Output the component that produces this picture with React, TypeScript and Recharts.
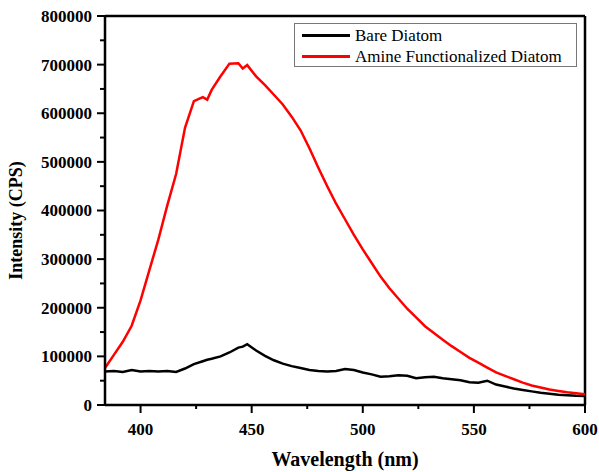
import { LineChart, Line, XAxis, YAxis, ReferenceLine, Label } from 'recharts';

const wavelengths = [
  384, 388, 392, 396, 400, 404, 408, 412, 416, 420, 424, 428, 430, 432, 436, 440, 444, 446, 448,
  452, 456, 460, 464, 468, 472, 476, 480, 484, 488, 492, 496, 500, 504, 508, 512, 516, 520, 524,
  528, 532, 536, 540, 544, 548, 552, 556, 560, 564, 568, 572, 576, 580, 584, 588, 592, 596, 600,
];

const bareDiatom = [
  69000, 70000, 68000, 72000, 69000, 70000, 69000, 70000, 68000, 75000, 84000, 90000, 93000, 95000,
  100000, 108000, 118000, 120000, 125000, 112000, 101000, 92000, 85000, 80000, 76000, 72000, 70000,
  69000, 70000, 74000, 72000, 67000, 63000, 58000, 59000, 61000, 60000, 55000, 57000, 58000, 55000,
  53000, 51000, 47000, 46000, 50000, 42000, 38000, 34000, 31000, 28000, 25000, 23000, 21000, 20000,
  19000, 18500,
];

const amineDiatom = [
  76000, 103000, 130000, 163000, 215000, 278000, 340000, 410000, 475000, 570000, 625000, 633000,
  628000, 648000, 676000, 702000, 703000, 692000, 699000, 676000, 658000, 638000, 618000, 593000,
  565000, 528000, 488000, 450000, 414000, 382000, 350000, 320000, 292000, 264000, 240000, 219000,
  198000, 180000, 162000, 148000, 134000, 121000, 109000, 97000, 87000, 77000, 67000, 60000, 53000,
  46000, 40000, 36000, 32000, 29000, 26000, 24000, 22000,
];

const xTicks = [400, 425, 450, 475, 500, 525, 550, 575, 600];
const yTicks = [
  0, 50000, 100000, 150000, 200000, 250000, 300000, 350000, 400000, 450000, 500000, 550000, 600000,
  650000, 700000, 750000, 800000,
];

const seriesNames = ['Bare Diatom', 'Amine Functionalized Diatom'];
const seriesColors = ['#000000', '#ff0000'];

const data = wavelengths.map((w, i) => ({ w, bare: bareDiatom[i], amine: amineDiatom[i] }));

const FONT = '"Liberation Serif", "Times New Roman", serif';

function XTick(props: any) {
  const { x, y, payload } = props;
  const major = payload.value % 50 === 0;
  return (
    <g>
      <line x1={x} y1={y} x2={x} y2={y + (major ? 8 : 4)} stroke="#000" strokeWidth={2} />
      {major && (
        <text x={x} y={y + 30} textAnchor="middle" fontFamily={FONT} fontWeight="bold" fontSize={17} fill="#000">
          {payload.value}
        </text>
      )}
    </g>
  );
}

function YTick(props: any) {
  const { x, y, payload } = props;
  const major = payload.value % 100000 === 0;
  return (
    <g>
      <line x1={x} y1={y} x2={x - (major ? 8 : 5)} y2={y} stroke="#000" strokeWidth={2} />
      {major && (
        <text x={x - 13} y={y} dy="0.35em" textAnchor="end" fontFamily={FONT} fontWeight="bold" fontSize={17} fill="#000">
          {payload.value}
        </text>
      )}
    </g>
  );
}

export default function App() {
  return (
    <div style={{ position: 'fixed', left: 0, top: 0, width: 599, height: 472, background: '#fff' }}>
      <LineChart width={599} height={472} data={data} margin={{ top: 16, right: 14, bottom: 0, left: 10 }}>
        <XAxis
          dataKey="w"
          type="number"
          domain={[384, 600]}
          ticks={xTicks}
          allowDataOverflow
          height={67}
          tickSize={0}
          tickMargin={0}
          tickLine={false}
          tick={<XTick />}
          axisLine={{ stroke: '#000', strokeWidth: 2.5 }}
        >
          <Label
            content={(p: any) => {
              const vb = p.viewBox;
              return (
                <text x={vb.x + vb.width / 2} y={vb.y + 61} textAnchor="middle" fontFamily={FONT} fontWeight="bold" fontSize={20} fill="#000">
                  Wavelength (nm)
                </text>
              );
            }}
          />
        </XAxis>
        <YAxis
          type="number"
          domain={[0, 800000]}
          ticks={yTicks}
          width={95}
          tickSize={0}
          tickMargin={0}
          tickLine={false}
          tick={<YTick />}
          axisLine={{ stroke: '#000', strokeWidth: 2.5 }}
        >
          <Label
            content={(p: any) => {
              const vb = p.viewBox;
              const cx = vb.x + 6;
              const cy = vb.y + vb.height / 2 + 10;
              return (
                <text x={cx} y={cy} dy="0.35em" transform={`rotate(-90 ${cx} ${cy})`} textAnchor="middle" fontFamily={FONT} fontWeight="bold" fontSize={18} fill="#000">
                  Intensity (CPS)
                </text>
              );
            }}
          />
        </YAxis>
        <ReferenceLine y={800000} stroke="#000" strokeWidth={2.5} />
        <ReferenceLine x={600} stroke="#000" strokeWidth={2.5} />
        <Line dataKey="bare" name={seriesNames[0]} stroke={seriesColors[0]} strokeWidth={2.5} dot={false} isAnimationActive={false} />
        <Line dataKey="amine" name={seriesNames[1]} stroke={seriesColors[1]} strokeWidth={2.5} dot={false} isAnimationActive={false} />
      </LineChart>
      <div
        style={{
          position: 'absolute',
          left: 294,
          top: 23,
          width: 281,
          height: 42,
          border: '1px solid #777',
          background: '#fff',
          fontFamily: FONT,
          fontSize: 17,
          color: '#000',
        }}
      >
        {seriesNames.map((name, i) => (
          <div key={name} style={{ display: 'flex', alignItems: 'center', height: 21, marginTop: i === 0 ? 1 : 0 }}>
            <div style={{ width: 48, height: 3, background: seriesColors[i], marginLeft: 7, marginRight: 5 }} />
            <span style={{ lineHeight: '21px' }}>{name}</span>
          </div>
        ))}
      </div>
    </div>
  );
}
